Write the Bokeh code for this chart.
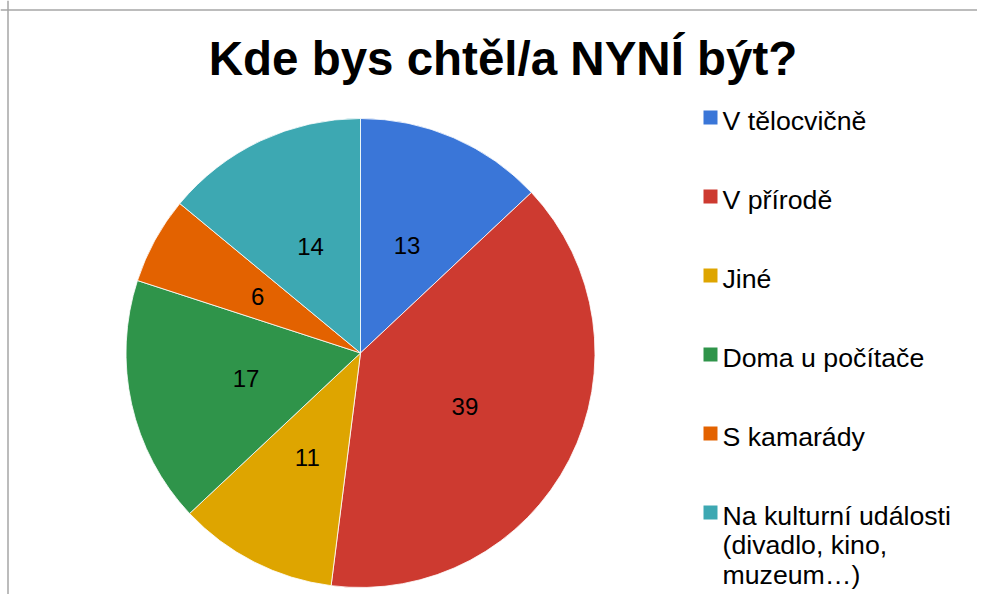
import math
from bokeh.plotting import figure
from bokeh.models import Range1d, Span, ColumnDataSource
from bokeh.core.properties import value
from bokeh.embed import file_html
from bokeh.resources import INLINE

# ---- data ----
title_text = "Kde bys chtěl/a NYNÍ být?"
categories = [
    "V tělocvičně",
    "V přírodě",
    "Jiné",
    "Doma u počítače",
    "S kamarády",
    "Na kulturní události\n(divadlo, kino,\nmuzeum…)",
]
values = [13, 39, 11, 17, 6, 14]
colors = ["#3A76D8", "#CD3A30", "#DEA500", "#2F944A", "#E36200", "#3DA8B2"]

# ---- layout ----
W, H = 977, 594
FONT = "Liberation Sans"
cx, cy, R = 360, 241.5, 234.5

p = figure(width=W, height=H, x_range=Range1d(0, W), y_range=Range1d(0, H),
           output_backend="svg", toolbar_location=None, min_border=0,
           x_axis_type=None, y_axis_type=None, outline_line_color=None)
p.grid.visible = False
p.background_fill_color = "white"
p.border_fill_color = "white"

# border (top & left visible in the reference)
p.add_layout(Span(location=H - 9.5, dimension="width", line_color="#a6a6a6", line_width=1.5))
p.add_layout(Span(location=7.5, dimension="height", line_color="#a6a6a6", line_width=1.5))

total = float(sum(values))
starts, ends, lx, ly = [], [], [], []
cum = 0.0
for v in values:
    a0 = math.pi / 2 - 2 * math.pi * cum / total
    cum += v
    a1 = math.pi / 2 - 2 * math.pi * cum / total
    starts.append(a0)
    ends.append(a1)
    mid = (a0 + a1) / 2
    lx.append(cx + 0.5 * R * math.cos(mid))
    ly.append(cy + 0.5 * R * math.sin(mid))

src = ColumnDataSource(dict(start=starts, end=ends, color=colors,
                            lx=lx, ly=ly, lab=[str(v) for v in values]))
p.wedge(x=cx, y=cy, radius=R, radius_units="screen", start_angle="start", end_angle="end",
        direction="clock", fill_color="color", line_color="white", line_width=0.8, source=src)
p.text(x="lx", y="ly", text="lab", source=src, text_align="center", text_baseline="middle",
       text_font=value(FONT), text_font_size="24px", text_color="black")

# title
p.text(x=[502.5], y=[H - 58], text=[title_text], text_align="center", text_baseline="middle",
       text_font=value(FONT), text_font_style="bold", text_font_size="47.5px", text_color="black")

# legend
sq_x, sq_y, txt_x, txt_y, txt = [], [], [], [], []
for i, cat in enumerate(categories):
    yc = H - 117 - 79 * i
    sq_x.append(710)
    sq_y.append(yc)
    for j, line in enumerate(cat.split("\n")):
        txt_x.append(722)
        txt_y.append(yc - 3 - 29.5 * j)
        txt.append(line)
p.rect(x=sq_x, y=sq_y, width=14, height=14, width_units="screen", height_units="screen",
       fill_color=colors, line_color=None)
p.text(x=txt_x, y=txt_y, text=txt, text_align="left", text_baseline="middle",
       text_font=value(FONT), text_font_size="26.7px", text_color="black")

open("out.html", "w").write(file_html(p, INLINE))
